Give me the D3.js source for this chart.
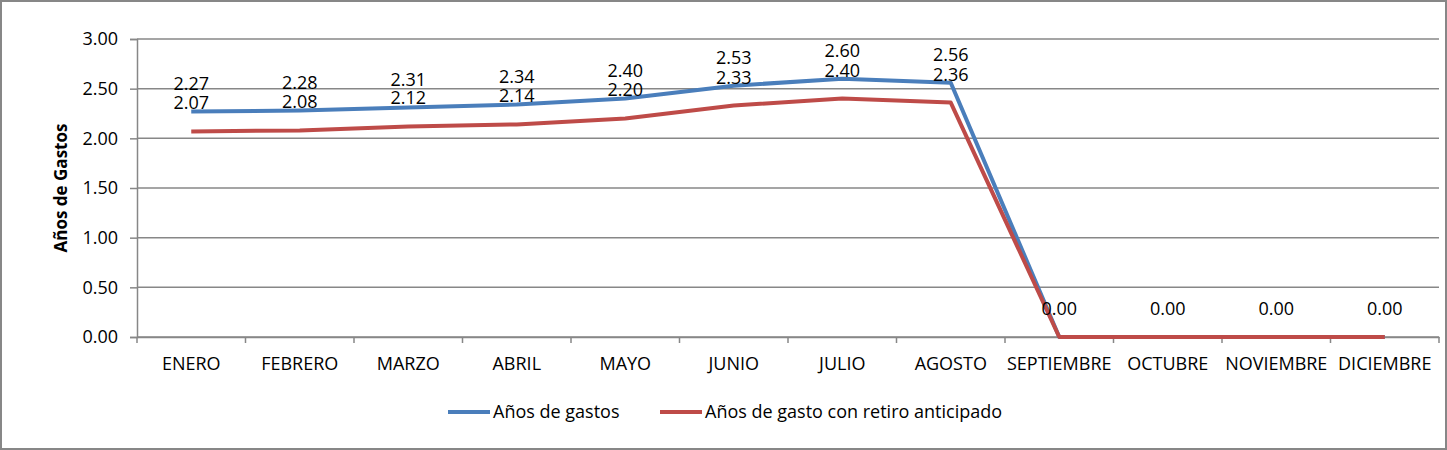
<!DOCTYPE html>
<html>
<head>
<meta charset="utf-8">
<script src="https://cdn.jsdelivr.net/npm/d3@7"></script>
<style>
  body { margin: 0; background: #fff; }
  svg text { font-family: "Open Sans", "Liberation Sans", sans-serif; fill: #000; }
</style>
</head>
<body>
<svg id="chart" width="1447" height="450"></svg>
<script>
// months on the x axis
const months = ["ENERO", "FEBRERO", "MARZO", "ABRIL", "MAYO", "JUNIO", "JULIO",
                "AGOSTO", "SEPTIEMBRE", "OCTUBRE", "NOVIEMBRE", "DICIEMBRE"];
// series values
const gastos  = [2.27, 2.28, 2.31, 2.34, 2.40, 2.53, 2.60, 2.56, 0, 0, 0, 0];
const retiro  = [2.07, 2.08, 2.12, 2.14, 2.20, 2.33, 2.40, 2.36, 0, 0, 0, 0];
const yTicks  = [0, 0.5, 1, 1.5, 2, 2.5, 3];
const seriesNames = ["Años de gastos", "Años de gasto con retiro anticipado"];

const series = [
  { name: seriesNames[0], values: gastos, color: "#4a7ebb" },
  { name: seriesNames[1], values: retiro, color: "#be4b48" }
];

const svg = d3.select("#chart");
const plot = { left: 137, right: 1439, top: 39, bottom: 337 };
const grey = "#878787";
const fmt = d3.format(".2f");

// outer frame
svg.append("rect")
    .attr("x", 1).attr("y", 1)
    .attr("width", 1445).attr("height", 448)
    .attr("fill", "#fff")
    .attr("stroke", grey)
    .attr("stroke-width", 2);

var x = d3.scaleBand()
    .domain(months)
    .range([plot.left, plot.right])
    .padding(0);

var y = d3.scaleLinear()
    .domain([0, 3])
    .range([plot.bottom, plot.top]);

// gridlines
svg.append("g")
    .selectAll("line")
    .data(yTicks)
    .enter()
    .append("line")
    .attr("x1", plot.left).attr("x2", plot.right)
    .attr("y1", d => y(d)).attr("y2", d => y(d))
    .attr("stroke", grey)
    .attr("stroke-width", 1.5);

// y axis
var yAxis = svg.append("g")
    .attr("transform", "translate(" + plot.left + ",0)")
    .call(d3.axisLeft(y).tickValues(yTicks).tickFormat(fmt).tickSize(7).tickPadding(12));
yAxis.select(".domain").attr("stroke", grey).attr("stroke-width", 1.5);
yAxis.selectAll(".tick line").attr("stroke", grey).attr("stroke-width", 1.5);
yAxis.selectAll("text").attr("font-size", 18).attr("font-family", null);

// x axis: labels under each band, ticks on the band edges
var xAxis = svg.append("g")
    .attr("transform", "translate(0," + plot.bottom + ")")
    .call(d3.axisBottom(x).tickSize(0).tickPadding(20));
xAxis.select(".domain").attr("stroke", grey).attr("stroke-width", 1.5);
xAxis.selectAll("text").attr("font-size", 18).attr("font-family", null);

const edges = months.map(m => x(m)).concat([x.range()[1]]);
svg.append("g")
    .selectAll("line")
    .data(edges)
    .enter()
    .append("line")
    .attr("x1", d => d).attr("x2", d => d)
    .attr("y1", plot.bottom).attr("y2", plot.bottom + 6)
    .attr("stroke", grey)
    .attr("stroke-width", 1.5);

// y axis title
svg.append("text")
    .attr("transform", "translate(67," + ((plot.top + plot.bottom) / 2) + ") rotate(-90)")
    .attr("text-anchor", "middle")
    .attr("font-size", 17)
    .attr("font-weight", "bold")
    .text("Años de Gastos");

var line = d3.line()
    .x((d, i) => x(months[i]) + x.bandwidth() / 2)
    .y(d => y(d));

svg.append("g")
    .selectAll("path")
    .data(series)
    .enter()
    .append("path")
    .attr("d", d => line(d.values))
    .attr("fill", "none")
    .attr("stroke", d => d.color)
    .attr("stroke-width", 4)
    .attr("stroke-linejoin", "round");

// data labels above the points; where both series sit on the same value
// the labels land on top of each other, so only one is written
series.forEach(function(s, k) {
  var pts = s.values.map((v, i) => ({ v: v, i: i }))
      .filter(p => k === 0 || p.v !== series[0].values[p.i]);
  svg.append("g")
      .selectAll("text")
      .data(pts)
      .enter()
      .append("text")
      .attr("x", p => x(months[p.i]) + x.bandwidth() / 2)
      .attr("y", p => y(p.v) - 22)
      .attr("text-anchor", "middle")
      .attr("font-size", 18)
      .text(p => fmt(p.v));
});

// legend
const legendX = [448, 660];
var legend = svg.append("g")
    .selectAll("g")
    .data(series)
    .enter()
    .append("g")
    .attr("transform", (d, i) => "translate(" + legendX[i] + ",412)");
legend.append("line")
    .attr("x1", 0).attr("x2", 42)
    .attr("stroke", d => d.color)
    .attr("stroke-width", 4);
legend.append("text")
    .attr("x", 45)
    .attr("y", 6)
    .attr("font-size", 18)
    .text(d => d.name);
</script>
</body>
</html>
